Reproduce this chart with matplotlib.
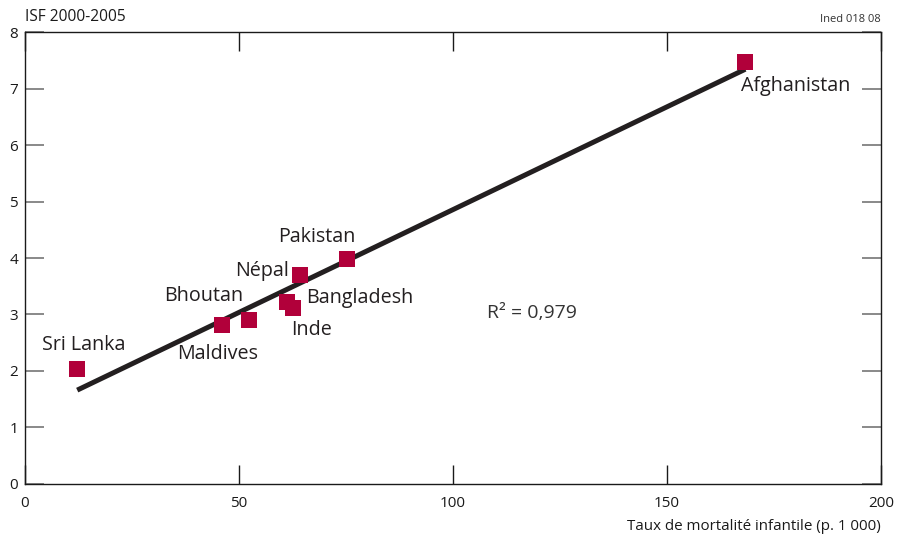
import numpy as np
import matplotlib
matplotlib.use("Agg")
import matplotlib.pyplot as plt

plt.rcParams["font.family"] = ["Open Sans", "DejaVu Sans"]

# -----------------------------------------------------
# Data
# -----------------------------------------------------

countries = ["Sri Lanka", "Bhoutan", "Maldives", "Bangladesh",
             "Inde", "Népal", "Pakistan", "Afghanistan"]
mortality = [12.2, 46.0, 52.4, 61.3, 62.5, 64.3, 75.3, 168.3]
fertility = [2.03, 2.81, 2.91, 3.22, 3.11, 3.70, 3.98, 7.47]
x_ticks = [0, 50, 100, 150, 200]
y_ticks = [0, 1, 2, 3, 4, 5, 6, 7, 8]

# label offsets in pixels, plus horizontal alignment
offsets = {
    "Sri Lanka": (7, 24, "center"),
    "Bhoutan": (-18, 29, "center"),
    "Maldives": (-32, -34, "center"),
    "Bangladesh": (19, 4, "left"),
    "Inde": (19, -22, "center"),
    "Népal": (-38, 4, "center"),
    "Pakistan": (-30, 22, "center"),
    "Afghanistan": (-4, -24, "left"),
}

red = "#B1003A"
dark = "#231F20"

fig = plt.figure(figsize=(8.97, 5.35), dpi=100)
ax = fig.add_axes([25 / 897, (535 - 483.7) / 535,
                   (881 - 25) / 897, (483.7 - 32.3) / 535])

# regression line
x = np.array(mortality)
y = np.array(fertility)
slope, inter = np.polyfit(x, y, 1)
xl = np.array([x.min(), x.max()])
ax.plot(xl, slope * xl + inter + 0.03, color=dark, lw=3.6,
        solid_capstyle="butt", zorder=2)

ax.scatter(x, y, marker="s", s=120, color=red, linewidths=0, zorder=3)

for c, xi, yi in zip(countries, mortality, fertility):
    dx, dy, ha = offsets[c]
    ax.annotate(c, (xi, yi), xytext=(dx, dy), textcoords="offset pixels",
                ha=ha, va="center", fontsize=14.2, color=dark)

ax.text(118.5, 3.03, "R² = 0,979", ha="center", va="center",
        fontsize=14, color="#333333")

ax.set_xlim(0, 200)
ax.set_ylim(0, 8)
ax.set_xticks(x_ticks)
ax.set_yticks(y_ticks)

for s in ax.spines.values():
    s.set_linewidth(1.0)
    s.set_color("#1a1a1a")

ax.tick_params(axis="x", direction="in", length=14, width=1,
               colors="#1a1a1a", top=True, labelsize=11, pad=9)
ax.tick_params(axis="y", direction="in", length=14, width=1.3,
               color="#808080", labelcolor="#1a1a1a", right=True,
               labelsize=11, pad=5)

fig.text(25 / 897, 1 - 17 / 535, "ISF 2000-2005", ha="left", va="center",
         fontsize=11.2, color="#1a1a1a")
fig.text(881 / 897, 1 - 20 / 535, "Ined 018 08", ha="right", va="center",
         fontsize=8, color="#333333")
fig.text(881 / 897, 1 - 526 / 535, "Taux de mortalité infantile (p. 1 000)",
         ha="right", va="center", fontsize=10.9, color="#1a1a1a")

fig.savefig("out.png", dpi=100)
